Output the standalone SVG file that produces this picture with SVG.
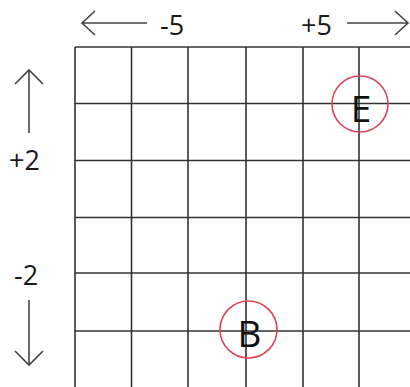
<svg xmlns="http://www.w3.org/2000/svg" width="410" height="387" viewBox="0 0 410 387">
<style>
.grid line{stroke:#333;stroke-width:1.6}
.ax{stroke:#444;stroke-width:1.6;fill:none}
.lbl{font-family:"Open Sans","Liberation Sans",sans-serif;font-size:27px;fill:#1a1a1a}
.ring{fill:none;stroke:#d9435a;stroke-width:1.6}
.let{font-family:"Open Sans","Liberation Sans",sans-serif;font-size:37px;fill:#111;text-anchor:middle}
</style>
<rect width="410" height="387" fill="#fff"/>
<g id="grid" class="grid">
<line x1="75" y1="47" x2="75" y2="387"/>
<line x1="131.5" y1="47" x2="131.5" y2="387"/>
<line x1="188" y1="47" x2="188" y2="387"/>
<line x1="246" y1="47" x2="246" y2="387"/>
<line x1="303" y1="47" x2="303" y2="387"/>
<line x1="359" y1="47" x2="359" y2="387"/>
<line x1="75" y1="47" x2="410" y2="47"/>
<line x1="75" y1="103.5" x2="410" y2="103.5"/>
<line x1="75" y1="160.5" x2="410" y2="160.5"/>
<line x1="75" y1="217.5" x2="410" y2="217.5"/>
<line x1="75" y1="273" x2="410" y2="273"/>
<line x1="75" y1="331" x2="410" y2="331"/>
</g>
<g id="connectors">
<path class="ax" d="M82 23H147M95 11L82 23L95 35"/>
<path class="ax" d="M347 23H408M395 11L408 23L395 35"/>
<path class="ax" d="M29 70V133M15 84L29 70L43 84"/>
<path class="ax" d="M29 300V365M15 351L29 365L43 351"/>
</g>
<g id="labels">
<text class="lbl" x="160" y="35">-5</text>
<text class="lbl" x="301" y="35">+5</text>
<text class="lbl" x="9" y="170">+2</text>
<text class="lbl" x="14" y="285">-2</text>
</g>
<g id="E">
<circle class="ring" cx="360" cy="104" r="28"/>
<text class="let" x="361" y="122">E</text>
</g>
<g id="B">
<circle class="ring" cx="248.5" cy="329.5" r="28.5"/>
<text class="let" x="249.5" y="347">B</text>
</g>
</svg>
